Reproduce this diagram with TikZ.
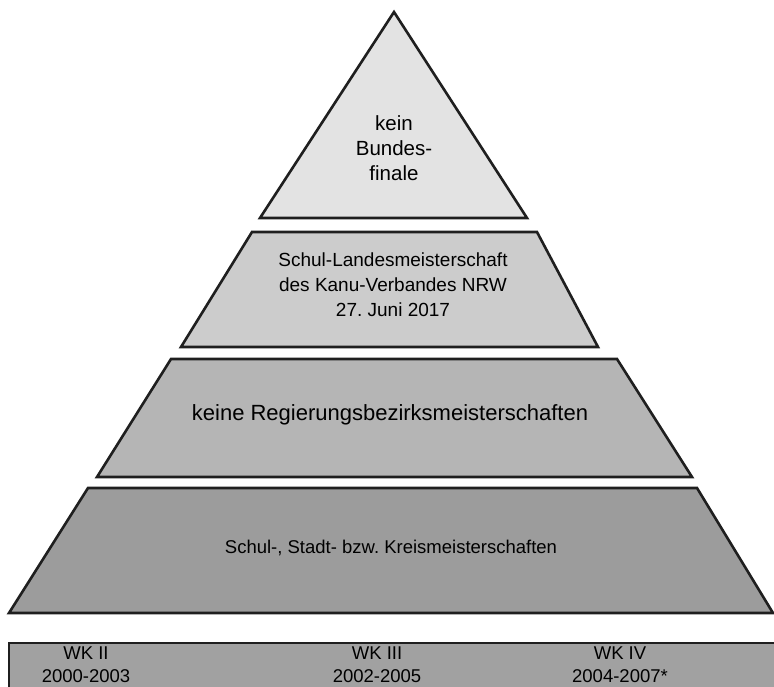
\documentclass[tikz,border=0pt]{standalone}
\usepackage{fontspec}
\setmainfont{Liberation Sans}
\usepackage{color}
\frenchspacing

\begin{document}
\begin{tikzpicture}[x=1pt,y=-1pt,line width=2.6pt,
    tier/.style={draw=black!88,line join=miter},
    lbl/.style={font=\fontsize{19}{25}\selectfont,align=center,inner sep=0pt},
    wk/.style={font=\fontsize{18.5}{23}\selectfont,align=center,inner sep=0pt}]
                \useasboundingbox (0,0) rectangle (774,687);
                % Pyramide
                \draw[tier,fill=black!11] (394,12) -- (527,218) -- (260,218) -- cycle;
                \draw[tier,fill=black!20] (252,232) -- (537,232) -- (598,347) -- (181,347) -- cycle;
                \draw[tier,fill=black!29] (171,359) -- (617,359) -- (692,477) -- (97,477) -- cycle;
                \draw[tier,fill=black!39] (88,488) -- (697,488) -- (773,613) -- (9,613) -- cycle;
                \draw[tier,fill=black!37] (9,643) rectangle (800,720);
                \node[lbl,font=\fontsize{20.5}{25}\selectfont] (bund) at (394,148) {kein\\Bundes-\\finale};
                \node[lbl] (land) at (393,285) {Schul-Landesmeisterschaft\\des Kanu-Verbandes NRW\\27. Juni 2017};
                \node[lbl,anchor=base,font=\fontsize{22}{25}\selectfont] (bezirk) at (390,420) {keine Regierungsbezirksmeisterschaften};
                \node[lbl,anchor=base,font=\fontsize{18.5}{25}\selectfont] (kreis) at (391,553) {Schul-, Stadt- bzw. Kreismeisterschaften};
                % Wettkampfklassen
                \node[wk] (wk2) at (86,665) {WK II\\2000-2003};
                \node[wk] (wk3) at (377,665) {WK III\\2002-2005};
                \node[wk] (wk4) at (620,665) {WK IV\\2004-2007*};
\end{tikzpicture}
\end{document}
